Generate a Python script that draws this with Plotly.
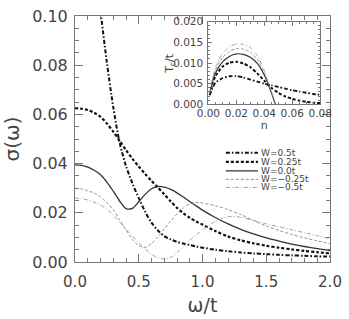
import plotly.graph_objects as go

# ---------------- main panel data: sigma(omega) ----------------
omega = [0.0, 0.05, 0.1, 0.15, 0.2, 0.25, 0.3, 0.35, 0.4, 0.45, 0.5, 0.55, 0.6, 0.65, 0.7,
         0.75, 0.8, 0.85, 0.9, 0.95, 1.0, 1.1, 1.2, 1.3, 1.4, 1.5, 1.6, 1.7, 1.8, 1.9, 2.0]

sig_w050 = [0.19, 0.168, 0.146, 0.124, 0.102, 0.081, 0.063, 0.0485, 0.039, 0.032, 0.026, 0.0205,
            0.016, 0.0128, 0.0105, 0.0092, 0.0082, 0.0075, 0.0069, 0.0063, 0.0058, 0.0050, 0.0044,
            0.0039, 0.0035, 0.0032, 0.0029, 0.0027, 0.0025, 0.0023, 0.0022]
sig_w025 = [0.0625, 0.0623, 0.0618, 0.0607, 0.059, 0.0563, 0.053, 0.0493, 0.0455, 0.042, 0.0388,
            0.0358, 0.033, 0.0303, 0.0275, 0.0247, 0.0220, 0.0198, 0.0180, 0.0165, 0.0152, 0.0126,
            0.0104, 0.0088, 0.0076, 0.0066, 0.0058, 0.0051, 0.0045, 0.0040, 0.0035]
sig_w000 = [0.0395, 0.0393, 0.0386, 0.0373, 0.0355, 0.0325, 0.0288, 0.0248, 0.0217, 0.0218, 0.0245,
            0.0275, 0.0298, 0.0307, 0.0304, 0.0295, 0.0281, 0.0264, 0.0246, 0.0228, 0.0211, 0.0181,
            0.0155, 0.0133, 0.0114, 0.0098, 0.0085, 0.0073, 0.0063, 0.0054, 0.0046]
sig_wm025 = [0.030, 0.0297, 0.0290, 0.0280, 0.0265, 0.0242, 0.0212, 0.0172, 0.0130, 0.0092, 0.0067,
             0.0060, 0.0075, 0.0102, 0.0135, 0.0166, 0.0195, 0.0220, 0.0236, 0.0242, 0.0240, 0.0229,
             0.0213, 0.0193, 0.0169, 0.0146, 0.0128, 0.0112, 0.0098, 0.0086, 0.0075]
sig_wm050 = [0.026, 0.0257, 0.0252, 0.0243, 0.0232, 0.0214, 0.0190, 0.0163, 0.0133, 0.0105, 0.0078,
             0.0053, 0.0032, 0.0018, 0.0012, 0.0018, 0.0038, 0.0062, 0.0088, 0.0110, 0.0130, 0.0165,
             0.0184, 0.0182, 0.0169, 0.0155, 0.0143, 0.0131, 0.0119, 0.0107, 0.0095]

# ---------------- inset data: Tc/t vs n ----------------
n_dome = [0.001, 0.003, 0.005, 0.01, 0.015, 0.02, 0.025, 0.03, 0.035, 0.04, 0.043, 0.045, 0.047, 0.048]
tc_wm050 = [0.0027, 0.0064, 0.0089, 0.0122, 0.0139, 0.0146, 0.0145, 0.0137, 0.0118, 0.0082, 0.0050, 0.0031, 0.0010, 0.0]
tc_wm025 = [0.0026, 0.0060, 0.0083, 0.0113, 0.0128, 0.0135, 0.0134, 0.0126, 0.0109, 0.0077, 0.0048, 0.0030, 0.0009, 0.0]
tc_w000 = [0.0025, 0.0055, 0.0075, 0.0102, 0.0116, 0.0122, 0.0121, 0.0114, 0.0099, 0.0071, 0.0047, 0.0029, 0.0009, 0.0]

n_tail = [0.001, 0.003, 0.005, 0.01, 0.015, 0.02, 0.025, 0.03, 0.035, 0.04, 0.045, 0.05, 0.055,
          0.06, 0.065, 0.07, 0.075, 0.08]
tc_w025 = [0.0024, 0.0050, 0.0068, 0.0091, 0.0101, 0.0103, 0.0099, 0.0090, 0.0075, 0.0057, 0.0040,
           0.0028, 0.0019, 0.0013, 0.0009, 0.0006, 0.0004, 0.0003]
tc_w050 = [0.0022, 0.0040, 0.0052, 0.0063, 0.0068, 0.0068, 0.0065, 0.0060, 0.0055, 0.0050, 0.0046,
           0.0042, 0.0038, 0.0034, 0.0031, 0.0028, 0.0025, 0.0023]

legend_labels = ["W=0.5t", "W=0.25t", "W=0.0t", "W=\u22120.25t", "W=\u22120.5t"]

# styles (kept separate from the data)
styles = [
    dict(color="#111111", width=2.0, dash="4px,2px,1.5px,2px"),
    dict(color="#111111", width=2.2, dash="3px,2px"),
    dict(color="#333333", width=1.3, dash="solid"),
    dict(color="#777777", width=0.8, dash="3px,2px"),
    dict(color="#888888", width=0.8, dash="4px,2px,1px,2px"),
]

FONT = "DejaVu Sans"
TXT = "#444444"
AX = "#777777"

fig = go.Figure()
main_series = [sig_w050, sig_w025, sig_w000, sig_wm025, sig_wm050]
for lab, ys, st in zip(legend_labels, main_series, styles):
    fig.add_trace(go.Scatter(x=omega, y=ys, mode="lines", name=lab, showlegend=False,
                             line=dict(shape="spline", smoothing=0.8, **st)))

inset_series = [(n_tail, tc_w050), (n_tail, tc_w025), (n_dome, tc_w000),
                (n_dome, tc_wm025), (n_dome, tc_wm050)]
for lab, (xs, ys), st in zip(legend_labels, inset_series, styles):
    st2 = dict(st)
    st2["width"] = st2["width"] * 0.9
    fig.add_trace(go.Scatter(x=xs, y=ys, mode="lines", name=lab, showlegend=False,
                             xaxis="x2", yaxis="y2",
                             line=dict(shape="spline", smoothing=0.6, **st2)))

L, R, T, B = 75, 12, 7, 53
W, H = 349, 319
pw, ph = W - L - R, H - T - B

def px_x(p):
    return (p - L) / pw

def px_y(p):
    return (H - B - p) / ph

# manual legend (lines + text)
leg_y = [151, 160.5, 170, 179, 187.5]
for lab, st, yp in zip(legend_labels, styles, leg_y):
    fig.add_shape(type="line", xref="paper", yref="paper",
                  x0=px_x(230), x1=px_x(263), y0=px_y(yp), y1=px_y(yp),
                  line=dict(color=st["color"], width=st["width"], dash=st["dash"]))
    fig.add_annotation(xref="paper", yref="paper", x=px_x(265), y=px_y(yp),
                       text=lab, showarrow=False, xanchor="left", yanchor="middle",
                       borderpad=0, font=dict(family=FONT, size=9, color=TXT))

# inset y-axis title
fig.add_annotation(xref="paper", yref="paper", x=px_x(173), y=px_y(57),
                   text="T<sub>c</sub>/t", showarrow=False, textangle=-90,
                   xanchor="center", yanchor="middle", borderpad=0,
                   font=dict(family=FONT, size=11, color=TXT))

axis_common = dict(showline=True, linecolor=AX, linewidth=1, mirror="allticks",
                   ticks="inside", tickcolor=AX, showgrid=False, zeroline=False)

fig.update_layout(
    width=W, height=H,
    margin=dict(l=L, r=R, t=T, b=B),
    paper_bgcolor="white", plot_bgcolor="white",
    xaxis=dict(range=[0, 2.0], tickvals=[0, 0.5, 1.0, 1.5, 2.0],
               ticktext=["0.0", "0.5", "1.0", "1.5", "2.0"], ticklen=8, tickwidth=1,
               minor=dict(ticks="inside", dtick=0.1, ticklen=4, tickcolor=AX),
               tickfont=dict(family=FONT, size=15, color=TXT), ticklabelstandoff=6,
               title=dict(text="\u03c9/t", font=dict(family=FONT, size=19, color=TXT), standoff=8),
               **axis_common),
    yaxis=dict(range=[0, 0.1], tickvals=[0, 0.02, 0.04, 0.06, 0.08, 0.10],
               ticktext=["0.00", "0.02", "0.04", "0.06", "0.08", "0.10"], ticklen=8, tickwidth=1,
               minor=dict(ticks="inside", dtick=0.005, ticklen=4, tickcolor=AX),
               tickfont=dict(family=FONT, size=16, color=TXT), ticklabelstandoff=3,
               title=dict(text="\u03c3(\u03c9)", font=dict(family=FONT, size=20, color=TXT), standoff=8),
               **axis_common),
    xaxis2=dict(domain=[px_x(212), px_x(327)], anchor="y2", range=[0, 0.08],
                tickvals=[0, 0.02, 0.04, 0.06, 0.08],
                ticktext=["0.00", "0.02", "0.04", "0.06", "0.08"], ticklen=4,
                minor=dict(ticks="inside", dtick=0.005, ticklen=2, tickcolor=AX),
                tickfont=dict(family=FONT, size=10.5, color=TXT), ticklabelstandoff=-1,
                title=dict(text="n", font=dict(family=FONT, size=11, color=TXT), standoff=0),
                **axis_common),
    yaxis2=dict(domain=[px_y(100), px_y(13)], anchor="x2", range=[0, 0.02],
                tickvals=[0, 0.005, 0.01, 0.015, 0.02],
                ticktext=["0.000", "0.005", "0.010", "0.015", "0.020"], ticklen=4,
                minor=dict(ticks="inside", dtick=0.001, ticklen=2, tickcolor=AX),
                tickfont=dict(family=FONT, size=10.5, color=TXT), ticklabelstandoff=2,
                **axis_common),
)

fig.write_html("out.html", config={"displayModeBar": False},
               post_script="document.body.style.margin='0px';")
